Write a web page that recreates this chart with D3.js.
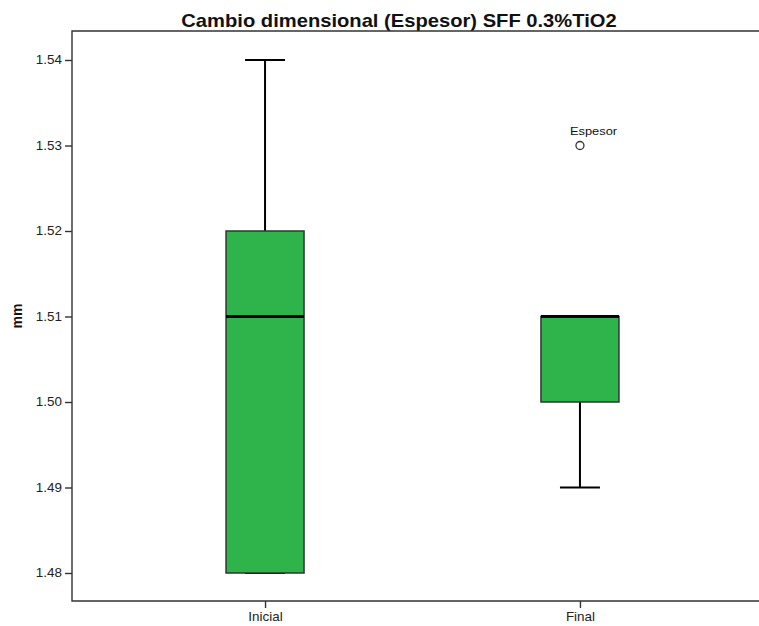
<!DOCTYPE html>
<html>
<head>
<meta charset="utf-8">
<script src="https://cdn.jsdelivr.net/npm/d3@7"></script>
<style>
  body { margin: 0; background: #fff; overflow: hidden; }
  svg { display: block; font-family: Arial, "Liberation Sans", sans-serif; }
</style>
</head>
<body>
<div id="chart"></div>
<script>
// Data
let groups = ["Inicial", "Final"];
let lowWhisker = [1.48, 1.49];
let q1 = [1.48, 1.50];
let median = [1.51, 1.51];
let q3 = [1.52, 1.51];
let highWhisker = [1.54, 1.51];
let outliers = [{ group: "Final", value: 1.53, label: "Espesor" }];
let yTicks = [1.48, 1.49, 1.50, 1.51, 1.52, 1.53, 1.54];

let boxes = groups.map((g, i) => ({
  group: g,
  lo: lowWhisker[i],
  q1: q1[i],
  med: median[i],
  q3: q3[i],
  hi: highWhisker[i],
}));

// Set up dimensions
let width = 759;
let height = 626;
let margin = { top: 31, right: -14, bottom: 25, left: 72 };

let boxWidth = 78;
let capWidth = 40;
let boxFill = "#2eb44a";
// the reference text is a little wider than tall
let stretch = "scale(1.12,1)";

// Set up scales
let xScale = d3
  .scalePoint()
  .domain(groups)
  .range([margin.left, width - margin.right])
  .padding(0.613);

let yScale = d3
  .scaleLinear()
  .domain([1.48, 1.54])
  .range([573, 60]);

let svg = d3
  .select("#chart")
  .append("svg")
  .attr("width", width)
  .attr("height", height);

// Draw title
svg
  .append("text")
  .attr("transform", `translate(399,27) ${stretch}`)
  .attr("text-anchor", "middle")
  .attr("font-size", 18)
  .attr("font-weight", "bold")
  .attr("fill", "#111")
  .text("Cambio dimensional (Espesor) SFF 0.3%TiO2");

// Draw frame (top, left, bottom; the right side runs off the picture)
let plotBottom = height - margin.bottom;
svg
  .append("path")
  .attr(
    "d",
    `M${width},${margin.top}H${margin.left}V${plotBottom}H${width}`
  )
  .attr("fill", "none")
  .attr("stroke", "#333")
  .attr("stroke-width", 1.4);

// Draw y axis
const yAxisG = svg
  .append("g")
  .attr("transform", `translate(${margin.left},0)`)
  .call(
    d3.axisLeft(yScale)
      .tickValues(yTicks)
      .tickSize(7)
      .tickPadding(2)
      .tickFormat(d3.format(".2f"))
  );
yAxisG.select(".domain").remove();
yAxisG.selectAll(".tick line").attr("stroke", "#333").attr("stroke-width", 1.4);
yAxisG
  .selectAll(".tick text")
  .attr("font-size", 12)
  .attr("fill", "#222")
  .attr("transform", stretch);

// Draw y axis title
svg
  .append("text")
  .attr("transform", `translate(22,316) rotate(-90)`)
  .attr("text-anchor", "middle")
  .attr("font-size", 14)
  .attr("font-weight", "bold")
  .attr("fill", "#111")
  .text("mm");

// Draw x axis
const xAxisG = svg
  .append("g")
  .attr("transform", `translate(0,${plotBottom})`)
  .call(d3.axisBottom(xScale).tickSize(7).tickPadding(4));
xAxisG.select(".domain").remove();
xAxisG.selectAll(".tick line").attr("stroke", "#333").attr("stroke-width", 1.4);
xAxisG
  .selectAll(".tick text")
  .attr("font-size", 12)
  .attr("fill", "#222")
  .attr("transform", stretch);

// Draw boxes
let boxG = svg
  .append("g")
  .selectAll("g")
  .data(boxes)
  .join("g")
  .attr("transform", (d) => `translate(${xScale(d.group)},0)`);

// whiskers
boxG
  .append("line")
  .attr("y1", (d) => yScale(d.hi))
  .attr("y2", (d) => yScale(d.q3))
  .attr("stroke", "#000")
  .attr("stroke-width", 2);

boxG
  .append("line")
  .attr("y1", (d) => yScale(d.q1))
  .attr("y2", (d) => yScale(d.lo))
  .attr("stroke", "#000")
  .attr("stroke-width", 2);

// caps
boxG
  .append("line")
  .attr("x1", -capWidth / 2)
  .attr("x2", capWidth / 2)
  .attr("y1", (d) => yScale(d.hi))
  .attr("y2", (d) => yScale(d.hi))
  .attr("stroke", "#000")
  .attr("stroke-width", 2);

boxG
  .append("line")
  .attr("x1", -capWidth / 2)
  .attr("x2", capWidth / 2)
  .attr("y1", (d) => yScale(d.lo))
  .attr("y2", (d) => yScale(d.lo))
  .attr("stroke", "#000")
  .attr("stroke-width", 2);

// box
boxG
  .append("rect")
  .attr("x", -boxWidth / 2)
  .attr("width", boxWidth)
  .attr("y", (d) => yScale(d.q3))
  .attr("height", (d) => yScale(d.q1) - yScale(d.q3))
  .attr("fill", boxFill)
  .attr("stroke", "#333")
  .attr("stroke-width", 1.5);

// median
boxG
  .append("line")
  .attr("x1", -boxWidth / 2)
  .attr("x2", boxWidth / 2)
  .attr("y1", (d) => yScale(d.med))
  .attr("y2", (d) => yScale(d.med))
  .attr("stroke", "#000")
  .attr("stroke-width", 3);

// Draw outliers
let outG = svg
  .append("g")
  .selectAll("g")
  .data(outliers)
  .join("g")
  .attr("transform", (d) => `translate(${xScale(d.group)},${yScale(d.value)})`);

outG
  .append("circle")
  .attr("r", 4)
  .attr("fill", "#fff")
  .attr("stroke", "#333")
  .attr("stroke-width", 1.3);

outG
  .append("text")
  .attr("transform", `translate(-10,-11) ${stretch}`)
  .attr("font-size", 11.5)
  .attr("fill", "#111")
  .text((d) => d.label);
</script>
</body>
</html>
